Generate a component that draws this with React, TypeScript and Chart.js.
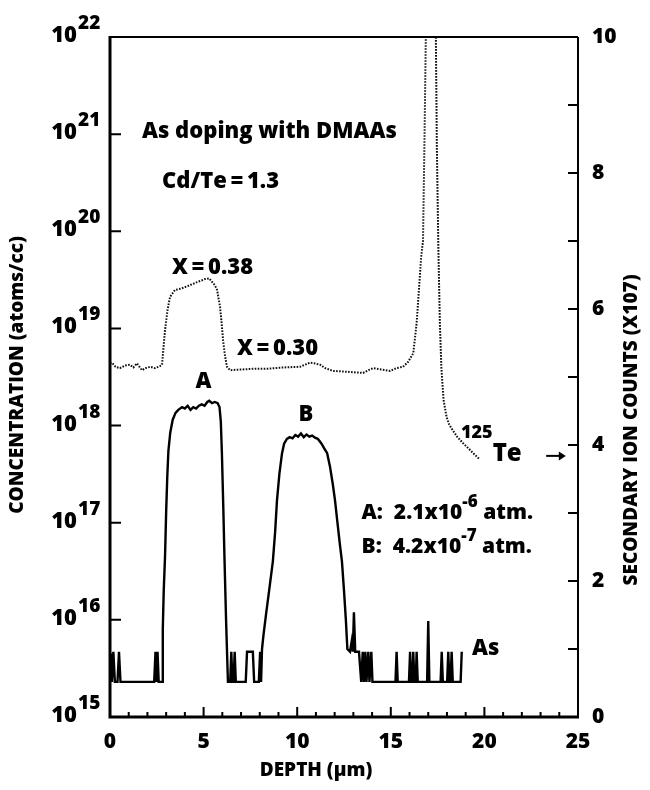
import React, { useEffect, useRef } from 'react';
import { Chart, registerables } from 'chart.js';

Chart.register(...registerables);

// As concentration profile: [depth (µm), concentration (atoms/cc)]
const asProfile: [number, number][] = [
  [0.05, 4.5e15], [0.1, 2.3e15], [0.18, 4.7e15], [0.26, 2.3e15], [0.4, 2.3e15], [0.48, 4.7e15], [0.56, 2.3e15],
  [2.36, 2.3e15], [2.43, 4.7e15], [2.49, 2.3e15], [2.54, 4.7e15], [2.6, 2.3e15], [2.74, 2.3e15],
  [2.78, 2.3e15], [2.82, 8e15], [2.87, 2e16], [2.94, 4.5e16], [3.0, 1.3e17], [3.06, 3e17], [3.12, 5.5e17],
  [3.22, 8.5e17], [3.35, 1.15e18], [3.5, 1.35e18], [3.65, 1.45e18], [3.85, 1.55e18], [4.0, 1.5e18],
  [4.15, 1.6e18], [4.3, 1.45e18], [4.45, 1.55e18], [4.6, 1.5e18], [4.75, 1.6e18], [4.9, 1.65e18],
  [5.05, 1.6e18], [5.2, 1.75e18], [5.3, 1.8e18], [5.45, 1.7e18], [5.6, 1.75e18], [5.75, 1.7e18],
  [5.85, 1.55e18], [5.92, 1.1e18], [5.98, 5e17], [6.05, 1.5e17], [6.12, 4e16], [6.2, 1e16], [6.3, 2.3e15],
  [6.42, 2.3e15], [6.48, 4.7e15], [6.54, 2.3e15], [6.6, 2.3e15], [6.66, 4.7e15], [6.72, 2.3e15],
  [7.25, 2.3e15], [7.32, 4.7e15], [7.63, 4.7e15], [7.7, 2.3e15], [7.95, 2.3e15], [8.02, 4.7e15],
  [8.07, 2.3e15], [8.12, 5e15], [8.2, 7e15], [8.35, 1.2e16], [8.5, 2e16], [8.7, 4e16], [8.82, 8e16],
  [8.92, 1.7e17], [9.05, 3.2e17], [9.19, 5.2e17], [9.3, 6.5e17], [9.45, 7.3e17], [9.6, 7.6e17],
  [9.75, 7.4e17], [9.9, 8e17], [10.05, 7.7e17], [10.2, 8.3e17], [10.35, 7.6e17], [10.5, 8.1e17],
  [10.65, 7.7e17], [10.8, 7.9e17], [10.95, 7.5e17], [11.1, 7.3e17], [11.3, 6.5e17], [11.45, 5.8e17],
  [11.6, 5.2e17], [11.75, 3.8e17], [11.9, 2.5e17], [12.02, 1.7e17], [12.15, 1e17], [12.28, 6e16],
  [12.39, 4e16], [12.5, 2e16], [12.6, 1e16], [12.68, 5e15], [12.82, 4.7e15], [12.91, 6e15],
  [12.97, 4.7e15], [13.03, 1.2e16], [13.1, 4.7e15], [13.3, 4.7e15], [13.42, 2.3e15], [13.5, 4.7e15],
  [13.56, 2.3e15], [13.64, 4.7e15], [13.7, 2.3e15], [13.8, 4.7e15], [13.86, 2.3e15], [13.96, 4.7e15],
  [14.02, 2.3e15], [15.25, 2.3e15], [15.31, 4.7e15], [15.37, 2.3e15], [15.97, 2.3e15], [16.03, 4.7e15],
  [16.09, 2.3e15], [16.15, 2.3e15], [16.2, 4.7e15], [16.26, 2.3e15], [16.33, 2.3e15], [16.38, 4.7e15],
  [16.44, 2.3e15], [16.94, 2.3e15], [17.0, 9.7e15], [17.06, 2.3e15], [17.66, 2.3e15], [17.72, 4.7e15],
  [17.78, 2.3e15], [18.01, 2.3e15], [18.07, 4.7e15], [18.13, 2.3e15], [18.19, 2.3e15], [18.25, 4.7e15],
  [18.31, 2.3e15], [18.73, 2.3e15], [18.79, 4.7e15],
];

// 125Te secondary ion counts profile: [depth (µm), counts (x10^7)]
const teProfile: [number, number][] = [
  [0.0, 5.2], [0.11, 5.21], [0.3, 5.15], [0.53, 5.13], [0.8, 5.17], [1.07, 5.18], [1.25, 5.14], [1.44, 5.2],
  [1.71, 5.1], [1.9, 5.13], [2.14, 5.15], [2.4, 5.13], [2.67, 5.16], [2.78, 5.18], [2.94, 5.69], [3.08, 6.0],
  [3.21, 6.18], [3.47, 6.28], [3.8, 6.3], [4.27, 6.35], [4.7, 6.4], [5.07, 6.44], [5.3, 6.45], [5.45, 6.4],
  [5.6, 6.35], [5.72, 6.28], [5.88, 6.03], [5.96, 5.8], [6.04, 5.54], [6.15, 5.3], [6.25, 5.15], [6.41, 5.1],
  [7.0, 5.11], [7.6, 5.12], [8.39, 5.12], [9.2, 5.14], [10.15, 5.15], [10.5, 5.19], [10.68, 5.21],
  [10.95, 5.2], [11.22, 5.18], [11.5, 5.13], [11.91, 5.09], [12.5, 5.08], [13.0, 5.07], [13.52, 5.06],
  [13.8, 5.1], [14.05, 5.13], [14.5, 5.11], [14.96, 5.09], [15.3, 5.13], [15.65, 5.15], [15.92, 5.22],
  [16.2, 5.35], [16.38, 5.79], [16.5, 6.28], [16.62, 6.76], [16.72, 7.0], [16.8, 8.5], [16.88, 10.2],
  [17.15, 15], [17.4, 10.2], [17.46, 8.4], [17.54, 6.9], [17.62, 5.8], [17.7, 5.15], [17.82, 4.66],
  [17.98, 4.41], [18.12, 4.3], [18.3, 4.22], [18.55, 4.12], [18.85, 4.03], [19.15, 3.95], [19.4, 3.88],
  [19.75, 3.79],
];

const depthRange = [0, 25];
const depthLabelStep = 5;
const concExponents = [15, 16, 17, 18, 19, 20, 21, 22];
const countRange = [0, 10];
const countLabelStep = 2;

const xTitle = 'DEPTH (μm)';
const yLeftTitle = 'CONCENTRATION (atoms/cc)';
const yRightTitle = 'SECONDARY ION COUNTS (X107)';
const noteTitle = 'As doping with DMAAs';
const noteRatio = 'Cd/Te\u2009=\u20091.3';
const noteX38 = 'X\u2009=\u20090.38';
const noteX30 = 'X\u2009=\u20090.30';
const notePeakA = 'A';
const notePeakB = 'B';
const noteA = ['A:  2.1x10', '-6', ' atm.'];
const noteB = ['B:  4.2x10', '-7', ' atm.'];
const noteTe = ['125', 'Te'];
const noteAs = 'As';

const FF = '"Open Sans", "Liberation Sans", sans-serif';
const f = (s: number) => `800 ${s}px ${FF}`;

const decorPlugin = {
  id: 'decor',
  afterDatasetsDraw(chart: any) {
    const { ctx, chartArea: a, scales } = chart;
    const sx = scales.x, sl = scales.y, sr = scales.y2;
    ctx.save();
    ctx.strokeStyle = '#000';
    ctx.fillStyle = '#000';
    // frame
    ctx.lineWidth = 2;
    ctx.beginPath();
    ctx.moveTo(a.left, a.top); ctx.lineTo(a.right, a.top);
    ctx.moveTo(a.right, a.top); ctx.lineTo(a.right, a.bottom);
    ctx.stroke();
    ctx.lineWidth = 3;
    ctx.beginPath();
    ctx.moveTo(a.left, a.top - 1); ctx.lineTo(a.left, a.bottom);
    ctx.lineTo(a.right + 1, a.bottom);
    ctx.stroke();
    // inward ticks
    ctx.lineWidth = 2;
    ctx.beginPath();
    sx.ticks.forEach((t: any) => {
      const px = sx.getPixelForValue(t.value);
      const len = t.value % depthLabelStep === 0 ? 10 : 5;
      ctx.moveTo(px, a.bottom); ctx.lineTo(px, a.bottom - len);
    });
    concExponents.forEach((e) => {
      const py = sl.getPixelForValue(Math.pow(10, e));
      ctx.moveTo(a.left, py); ctx.lineTo(a.left + 11, py);
    });
    sr.ticks.forEach((t: any) => {
      const py = sr.getPixelForValue(t.value);
      ctx.moveTo(a.right, py); ctx.lineTo(a.right - 10, py);
    });
    ctx.stroke();
    // left log labels with superscripts
    ctx.textBaseline = 'alphabetic';
    concExponents.forEach((e) => {
      const py = sl.getPixelForValue(Math.pow(10, e));
      ctx.font = f(22);
      ctx.textAlign = 'right';
      ctx.fillText('10', 77, py + 5);
      ctx.font = f(19);
      ctx.textAlign = 'left';
      ctx.fillText(String(e), 78, py - 8);
    });
    // axis titles
    ctx.textAlign = 'center';
    ctx.textBaseline = 'middle';
    ctx.font = f(19);
    ctx.fillText(xTitle, 316, 771);
    ctx.save();
    ctx.translate(18, 375);
    ctx.rotate(-Math.PI / 2);
    ctx.fillText(yLeftTitle, 0, 0);
    ctx.restore();
    ctx.save();
    ctx.translate(632, 430);
    ctx.rotate(-Math.PI / 2);
    ctx.fillText(yRightTitle, 0, 0);
    ctx.restore();
    // annotations
    const X = (d: number) => sx.getPixelForValue(d);
    const Y = (v: number) => sr.getPixelForValue(v);
    ctx.textAlign = 'left';
    ctx.font = f(22);
    ctx.fillText(noteTitle, X(1.71), Y(8.6));
    ctx.fillText(noteRatio, X(2.78), Y(7.87));
    ctx.fillText(noteX38, X(3.31), Y(6.61));
    ctx.fillText(noteX30, X(6.78), Y(5.41));
    ctx.textAlign = 'center';
    ctx.fillText(notePeakA, X(4.99), Y(4.93));
    ctx.fillText(notePeakB, X(10.47), Y(4.44));
    ctx.textAlign = 'left';
    ctx.fillText(noteAs, X(19.34), Y(1.01));
    const rich = (parts: string[], x: number, y: number) => {
      ctx.font = f(21);
      ctx.fillText(parts[0], x, y);
      let w = ctx.measureText(parts[0]).width;
      ctx.font = f(17);
      ctx.fillText(parts[1], x + w, y - 11);
      w += ctx.measureText(parts[1]).width;
      ctx.font = f(21);
      ctx.fillText(parts[2], x + w, y);
    };
    rich(noteA, X(13.44), Y(3.0));
    rich(noteB, X(13.44), Y(2.5));
    // 125Te label
    ctx.font = f(18);
    const tx = X(18.75);
    ctx.fillText(noteTe[0], tx, Y(4.18));
    const w1 = ctx.measureText(noteTe[0]).width;
    ctx.font = f(24);
    ctx.fillText(noteTe[1], tx + w1, Y(3.86));
    // arrow pointing at the right axis
    const ay = Y(3.84);
    const ax0 = X(23.3), ax1 = X(24.35);
    ctx.lineWidth = 2;
    ctx.beginPath();
    ctx.moveTo(ax0, ay); ctx.lineTo(ax1 - 2, ay);
    ctx.stroke();
    ctx.beginPath();
    ctx.moveTo(ax1, ay); ctx.lineTo(ax1 - 7, ay - 4.5); ctx.lineTo(ax1 - 7, ay + 4.5); ctx.closePath();
    ctx.fill();
    ctx.restore();
  },
};

export default function App() {
  const ref = useRef<HTMLCanvasElement | null>(null);
  useEffect(() => {
    document.body.style.margin = '0';
    const canvas = ref.current!;
    const chart = new Chart(canvas, {
      type: 'line',
      data: {
        datasets: [
          {
            label: 'As',
            data: asProfile.map(([x, y]) => ({ x, y })),
            yAxisID: 'y',
            borderColor: '#000',
            borderWidth: 2.4,
            pointRadius: 0,
            tension: 0,
            fill: false,
          },
          {
            label: '125Te',
            data: teProfile.map(([x, y]) => ({ x, y })),
            yAxisID: 'y2',
            borderColor: '#111',
            borderWidth: 2,
            borderDash: [1.6, 1.4],
            pointRadius: 0,
            tension: 0,
            fill: false,
          },
        ],
      },
      options: {
        responsive: false,
        animation: false,
        events: [],
        layout: { padding: { left: 0, right: 0, top: 37, bottom: 0 } },
        plugins: { legend: { display: false }, tooltip: { enabled: false }, title: { display: false } },
        scales: {
          x: {
            type: 'linear',
            position: 'bottom',
            min: depthRange[0],
            max: depthRange[1],
            grid: { display: false, drawTicks: false },
            border: { display: false },
            ticks: {
              stepSize: 1,
              autoSkip: false,
              maxRotation: 0,
              padding: 12,
              color: '#000',
              font: { family: FF, size: 21, weight: '800' },
              callback: (v: any) => (Number(v) % depthLabelStep === 0 ? String(v) : ''),
            },
            afterFit: (s: any) => { s.height = 73; },
          },
          y: {
            type: 'logarithmic',
            position: 'left',
            min: Math.pow(10, concExponents[0]),
            max: Math.pow(10, concExponents[concExponents.length - 1]),
            grid: { display: false, drawTicks: false },
            border: { display: false },
            ticks: { display: false },
            afterFit: (s: any) => { s.width = 110; },
          },
          y2: {
            type: 'linear',
            position: 'right',
            min: countRange[0],
            max: countRange[1],
            grid: { display: false, drawTicks: false },
            border: { display: false },
            ticks: {
              stepSize: 1,
              autoSkip: false,
              padding: 14,
              color: '#000',
              font: { family: FF, size: 21, weight: '800' },
              callback: (v: any) => (Number(v) % countLabelStep === 0 ? String(v) : ''),
            },
            afterFit: (s: any) => { s.width = 72; },
          },
        },
      },
      plugins: [decorPlugin],
    } as any);
    return () => chart.destroy();
  }, []);
  return (
    <div style={{ position: 'absolute', left: 0, top: 0, width: 650, height: 790, background: '#fff' }}>
      <canvas ref={ref} width={650} height={790} />
    </div>
  );
}
